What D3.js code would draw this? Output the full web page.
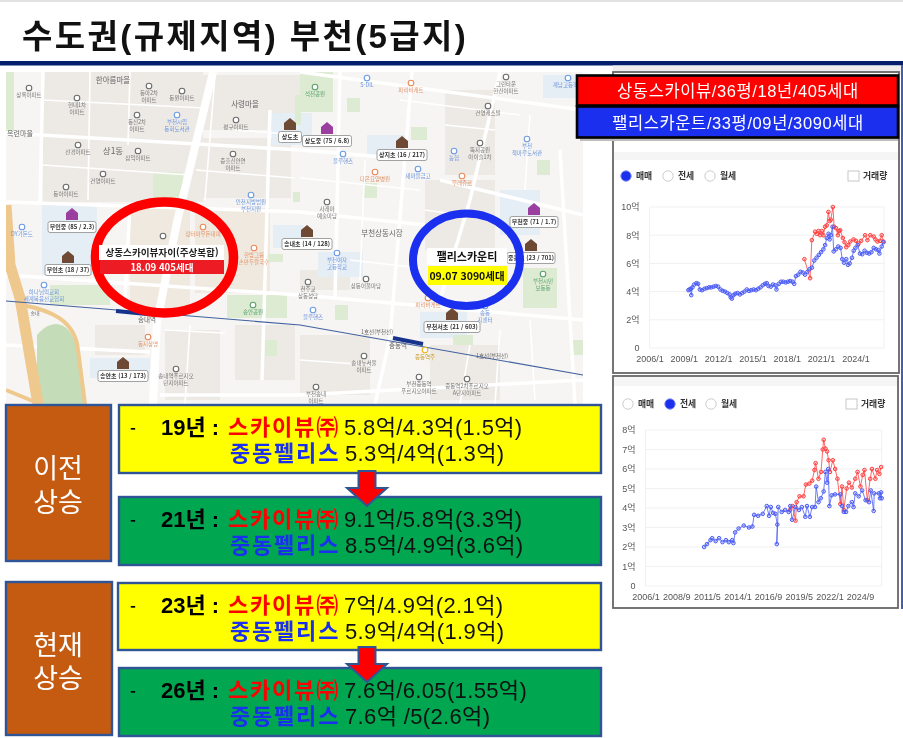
<!DOCTYPE html>
<html lang="ko">
<head>
<meta charset="utf-8">
<title>수도권(규제지역) 부천(5급지)</title>
<script src="https://cdn.jsdelivr.net/npm/d3@7"></script>
<style>
  html, body { margin: 0; padding: 0; background: #fff; }
  svg { display: block; font-family: "Noto Sans CJK KR", "Noto Sans", sans-serif; }
  .soft { filter: blur(0.5px); }
  .softer { filter: blur(0.3px); }
</style>
</head>
<body>
<div id="chart"></div>
<script>
/* DATA */
// [year as decimal, price in 억]
const saleSky = [[2019.54,6.3],[2020.04,4.95],[2020.19,7.65],[2020.48,8.25],[2020.62,8.1],[2020.77,8.3],[2020.92,8.0],[2021.06,8.3],[2021.2,8.0],[2021.35,8.6],[2021.5,8.7],[2021.64,9.65],[2021.75,9.0],[2021.85,9.1],[2022.03,10],[2022.14,8.6],[2022.3,8.5],[2022.47,8.0],[2022.57,8.3],[2022.67,8.35],[2022.9,7.8],[2023.05,7.5],[2023.2,7.15],[2023.38,7.3],[2023.55,7.55],[2023.83,7.7],[2024.05,7.6],[2024.27,7.4],[2024.5,7.6],[2024.85,8.0],[2025.05,7.65],[2025.3,8.0],[2025.6,7.9],[2025.75,7.7],[2025.93,7.55],[2026.15,7.6],[2026.3,8.0],[2026.45,7.55]];
const salePalace = [[2009.4,4.1],[2009.5,4.15],[2009.6,4.2],[2009.65,3.75],[2009.75,4.3],[2009.9,4.5],[2010.1,4.6],[2010.25,4.55],[2010.4,4.15],[2010.6,4.1],[2010.8,4.2],[2011,4.25],[2011.2,4.3],[2011.4,4.3],[2011.6,4.35],[2011.8,4.4],[2012,4.35],[2012.2,4.15],[2012.4,4.05],[2012.6,4],[2012.8,3.9],[2013,3.8],[2013.1,3.6],[2013.2,3.5],[2013.35,3.75],[2013.5,3.85],[2013.7,3.9],[2013.9,3.8],[2014.1,3.9],[2014.3,4],[2014.5,4.15],[2014.7,4.05],[2014.9,4.1],[2015.1,4.15],[2015.3,4.1],[2015.5,4.2],[2015.7,4.3],[2015.9,4.45],[2016.1,4.55],[2016.25,4.6],[2016.4,4.4],[2016.6,4.35],[2016.8,4.5],[2017,4.45],[2017.1,4.15],[2017.3,4.55],[2017.5,4.7],[2017.7,4.7],[2017.9,4.65],[2018.1,4.7],[2018.3,4.75],[2018.5,4.7],[2018.65,4.55],[2018.8,5.1],[2019,5.2],[2019.2,5.4],[2019.4,5.35],[2019.6,5.2],[2019.8,5.4],[2020,5.6],[2020.2,5.7],[2020.4,6.2],[2020.6,6.4],[2020.8,6.6],[2021,6.8],[2021.2,7],[2021.35,7.3],[2021.5,7.8],[2021.65,8.1],[2021.75,7.7],[2021.85,8],[2022,8.6],[2022.1,6.85],[2022.3,7],[2022.5,7.2],[2022.7,7.1],[2022.85,6.3],[2023,6.05],[2023.2,6.3],[2023.35,5.9],[2023.5,6],[2023.7,6.4],[2023.85,6.9],[2024,7.1],[2024.2,7.3],[2024.4,6.7],[2024.6,6.65],[2024.8,6.9],[2025,6.75],[2025.2,6.7],[2025.4,6.8],[2025.6,7.1],[2025.8,7],[2026,6.95],[2026.1,6.7],[2026.3,7.2],[2026.45,7.5]];
const rentSky = [[2018.58,3.9],[2018.8,4.1],[2019.05,3.35],[2019.15,4.3],[2019.4,4.6],[2019.75,4.6],[2019.95,5.2],[2020.25,5.25],[2020.5,5.4],[2020.7,5.95],[2020.8,6.3],[2021.05,5.5],[2021.27,5.85],[2021.42,7],[2021.5,7.5],[2021.65,7.05],[2021.8,6.9],[2021.93,6.45],[2022.05,5.85],[2022.3,6.45],[2022.5,6],[2022.7,5.5],[2022.95,4.2],[2023.1,5.1],[2023.25,3.9],[2023.5,5],[2023.7,5.3],[2023.95,5.05],[2024.25,5.5],[2024.45,5.85],[2024.7,5.1],[2024.9,5.7],[2025.05,5.95],[2025.3,4.4],[2025.55,5.5],[2025.7,6],[2026,5.5],[2026.15,5.95],[2026.35,5.75],[2026.5,6.1]];
const rentPalace = [[2011.1,2],[2011.35,2.15],[2011.65,2.35],[2011.8,2.45],[2012.1,2.3],[2012.4,2.45],[2012.7,2.25],[2013,2.35],[2013.25,2.25],[2013.55,2.35],[2013.65,2.2],[2013.8,2.75],[2014.1,2.95],[2014.55,3.1],[2015,3],[2015.3,3.05],[2015.45,3.65],[2015.8,3.6],[2016.2,3.7],[2016.55,4.1],[2016.75,3.6],[2016.9,4.05],[2017.1,3.75],[2017.3,3.7],[2017.47,3.15],[2017.42,2.15],[2017.55,4.05],[2017.85,3.8],[2018.15,3.9],[2018.45,3.8],[2018.6,4.1],[2018.75,3.4],[2019.05,4.05],[2019.35,3.9],[2019.6,4.05],[2019.9,3.55],[2020.05,4.1],[2020.3,3.55],[2020.5,4.05],[2020.75,4.05],[2020.85,5.1],[2021.05,4.3],[2021.25,4.5],[2021.5,4.85],[2021.65,5.85],[2021.8,5.3],[2021.9,6],[2022,4.1],[2022.2,4.65],[2022.5,4.7],[2022.95,4.7],[2023.1,4.1],[2023.25,3.8],[2023.45,3.8],[2023.65,4.1],[2023.95,4.3],[2024.1,4.05],[2024.25,4.75],[2024.55,4.6],[2024.85,4.9],[2025.15,4.4],[2025.45,4.3],[2025.6,4.9],[2025.85,3.85],[2025.9,4.75],[2026.3,4.75],[2026.4,4.5],[2026.5,4.8],[2026.55,4.5]];

const saleTicks = [2006, 2009, 2012, 2015, 2018, 2021, 2024];
const saleTickLabels = ["2006/1", "2009/1", "2012/1", "2015/1", "2018/1", "2021/1", "2024/1"];
const rentTicks = [2006, 2008.667, 2011.333, 2014, 2016.667, 2019.333, 2022, 2024.667];
const rentTickLabels = ["2006/1", "2008/9", "2011/5", "2014/1", "2016/9", "2019/5", "2022/1", "2024/9"];
const saleLevels = [0, 2, 4, 6, 8, 10];
const rentLevels = [0, 1, 2, 3, 4, 5, 6, 7, 8];

const legendLabels = ["상동스카이뷰/36평/18년/405세대", "팰리스카운트/33평/09년/3090세대"];
const tradeModes = ["매매", "전세", "월세"];

const periodLabels = [["이전", "상승"], ["현재", "상승"]];
const rowYears = ["19년", "21년", "23년", "26년"];
const skyPrices = ["5.8억/4.3억(1.5억)", "9.1억/5.8억(3.3억)", "7억/4.9억(2.1억)", "7.6억/6.05(1.55억)"];
const palacePrices = ["5.3억/4억(1.3억)", "8.5억/4.9억(3.6억)", "5.9억/4억(1.9억)", "7.6억 /5(2.6억)"];

/* LAYOUT */
const width = 903, height = 738;
const red = "#ff0000", blue = "#1b30ee";
const digitFont = '"Liberation Sans", "Noto Sans CJK KR", sans-serif';

const svg = d3.select("#chart").append("svg").attr("width", width).attr("height", height);
svg.append("defs").append("clipPath").attr("id", "map-clip")
  .append("rect").attr("x", 6).attr("y", 72).attr("width", 577).attr("height", 332);

/* HEADER */
svg.append("rect").attr("width", width).attr("height", 2).attr("fill", "#e2e2e2");
svg.append("text").attr("class", "softer").attr("x", 22).attr("y", 48)
  .attr("font-size", 33).attr("font-weight", 700).attr("fill", "#111")
  .attr("font-family", digitFont).attr("letter-spacing", 2.4)
  .text("수도권(규제지역) 부천(5급지)");
svg.append("rect").attr("y", 61).attr("width", width).attr("height", 4.5).attr("fill", "#04206c");

/* MAP */
// the street map behind the two circles, everything in page pixels
const mapAreas = [
  ["#edeae5", 43, 72, 160, 130], ["#edeae5", 200, 75, 100, 55], ["#edeae5", 196, 138, 95, 60],
  ["#efe9df", 130, 205, 60, 110], ["#efe9df", 195, 208, 75, 85], ["#edeae5", 445, 90, 50, 85],
  ["#edeae5", 425, 180, 70, 70], ["#edeae5", 95, 325, 50, 30], ["#edeae5", 165, 330, 55, 70],
  ["#edeae5", 235, 325, 60, 55], ["#edeae5", 300, 335, 70, 60], ["#edeae5", 430, 345, 70, 55],
  ["#edeae5", 300, 270, 50, 20],
  ["#e6eef5", 42, 205, 55, 70], ["#e6eef5", 272, 113, 40, 32], ["#e6eef5", 90, 358, 60, 20],
  ["#e6eef5", 273, 225, 30, 23], ["#e6eef5", 500, 190, 40, 45], ["#e6eef5", 318, 252, 45, 25],
  ["#e6eef5", 420, 312, 47, 26], ["#e6eef5", 367, 135, 40, 20], ["#e6eef5", 543, 75, 34, 23],
  ["#dcebd1", 153, 172, 30, 26], ["#dcebd1", 227, 295, 60, 23], ["#dcebd1", 50, 285, 60, 20],
  ["#dcebd1", 523, 268, 34, 40], ["#dcebd1", 347, 98, 13, 14], ["#dcebd1", 300, 72, 33, 40],
  ["#dcebd1", 363, 183, 14, 15], ["#dcebd1", 411, 127, 16, 13], ["#dcebd1", 537, 160, 13, 15],
  ["#dcebd1", 335, 305, 13, 15], ["#dcebd1", 570, 340, 13, 15], ["#dcebd1", 453, 335, 20, 10],
  ["#dcebd1", 293, 192, 7, 10], ["#dcebd1", 6, 72, 8, 60], ["#dcebd1", 295, 95, 6, 30],
  ["#dcebd1", 265, 340, 12, 16], ["#dcebd1", 268, 254, 15, 8]
];
const mapRoads = [
  [[6, 133], [300, 150], [420, 160]],
  [[6, 202], [300, 212], [425, 225]],
  [[6, 275], [300, 295], [583, 320]],
  [[300, 72], [583, 110]],
  [[43, 72], [40, 202]],
  [[130, 205], [125, 300]],
  [[270, 110], [262, 380]],
  [[340, 72], [335, 300]],
  [[412, 72], [390, 338], [375, 404]],
  [[500, 72], [470, 200], [440, 300]],
  [[560, 150], [575, 404]],
  [[440, 180], [583, 215]],
  [[6, 345], [150, 352]],
  [[160, 395], [300, 395], [583, 380]]
];
// thin side streets inside the blocks
const mapLanes = [
  [[43, 100], [205, 108]], [[43, 165], [190, 175]], [[90, 72], [88, 200]], [[130, 72], [128, 145]],
  [[215, 75], [205, 200]], [[235, 130], [300, 135]], [[196, 170], [295, 178]], [[165, 330], [225, 333]],
  [[190, 325], [185, 404]], [[300, 360], [370, 365]], [[445, 125], [495, 130]], [[425, 210], [500, 220]],
  [[300, 178], [420, 190]], [[365, 160], [360, 280]], [[400, 100], [520, 115]], [[530, 115], [525, 190]],
  [[350, 260], [420, 268]], [[470, 345], [460, 404]], [[500, 330], [495, 404]], [[530, 320], [535, 400]]
];
const mapLabels = [
  [113, 83, "한아름마을", 7.5], [245, 107, "사령마을", 7.5], [113, 154, "상1동", 8.5], [20, 136, "옥련마을", 7],
  [382, 236, "부천상동시장", 7.5], [147, 322, "송내역", 6.5], [398, 348, "중동역", 6.5],
  [377, 334, "1호선(부천선)", 5.5], [492, 358, "1호선(부천선)", 5.5], [35, 315, "송내", 5]
];
// kind, ring x, ring y, first line, second line
const mapPlaces = [
  ["grey", 29, 88, "상록아파트"], ["grey", 77, 98, "현대1차", "아파트"], ["grey", 149, 86, "동아2차", "아파트"],
  ["grey", 182, 91, "동원아파트"], ["blue", 177, 115, "부천시립", "동화도서관"], ["grey", 137, 115, "동신2차", "아파트"],
  ["grey", 236, 120, "평구아파트"], ["grey", 78, 145, "선경아파트"], ["grey", 138, 151, "삼익아파트"],
  ["grey", 103, 174, "건영아파트"], ["grey", 66, 187, "동아아파트"], ["grey", 233, 154, "중흥신안연", "아파트"],
  ["blue", 251, 195, "인천지방법원", "부천지원"], ["blue", 22, 227, "DY가든드"], ["grey", 163, 236],
  ["orange", 203, 227, "정터마우돈대피"], ["orange", 254, 248, "한방그룹", "손만두칼국수"], ["blue", 44, 285, "하나님의교회", "세계복음선교협회"],
  ["green", 253, 305, "송안공원"], ["grey", 176, 369, "송내역푸르지오", "단지아파트"], ["orange", 148, 337, "동지상명"],
  ["blue", 367, 78, "S-DIL"], ["orange", 411, 83, "파리바게트"], ["green", 315, 87, "석천공원"],
  ["grey", 506, 77, "그린타운", "한신아파트"], ["blue", 568, 78, "계남고등학교"], ["grey", 488, 106, "건영캐스빌"],
  ["grey", 480, 143, "뚝지공원", "아이슬1차"], ["blue", 527, 139, "부천", "책마루도서관"], ["blue", 454, 151, "농협"],
  ["blue", 418, 169, "새마을금고"], ["orange", 375, 172, "다은요양병원"], ["orange", 462, 176, "뚜레쥬르"],
  ["blue", 343, 154, "블루핸즈"], ["grey", 327, 202, "사래마", "예술마당"], ["blue", 337, 253, "부천여자", "고등학교"],
  ["grey", 366, 279, "상동어울마당"], ["grey", 308, 282, "천주교", "상동성당"], ["blue", 313, 310, "블루핸즈"],
  ["green", 543, 274, "부천시민", "보동동"], ["grey", 364, 356, "송내뉴서울", "아파트"], ["grey", 419, 377, "부천중동역", "푸르지오아파트"],
  ["grey", 467, 379, "중동역2차푸르지오", "A단지아파트"], ["grey", 316, 387, "부천송내", "아파트"], ["blue", 485, 306, "송동", "지센터"],
  ["yellow", 425, 350, "중동역주"], ["orange", 428, 298, "파리바게트"]
];
// label, label centre x, label centre y, label width, icon colour
const mapSchools = [
  ["부인중 (85 / 2.3)", 72, 227, 48, "#9a3fa0"], ["부인초 (18 / 37)", 68, 270, 46, "#6e4a34"],
  ["상도초", 290, 137, 23, "#6e4a34"], ["송내초 (14 / 128)", 307, 244, 50, "#6e4a34"],
  ["상도중 (75 / 6.8)", 327, 141, 49, "#9a3fa0"], ["상지초 (16 / 217)", 402, 155, 50, "#6e4a34"],
  ["부천중 (71 / 1.7)", 534, 222, 48, "#9a3fa0"], ["중흥초 (23 / 701)", 531, 258, 48, "#6e4a34"],
  ["부천서초 (21 / 603)", 452, 327, 56, "#6e4a34"], ["송안초 (13 / 173)", 123, 376, 50, "#6e4a34"]
];
const ringColors = { grey: "#6a6a6a", blue: "#6c9be4", orange: "#ea8a5c", green: "#5aa06a", yellow: "#e6b820" };
const labelColors = { grey: "#777", blue: "#6c94dc", orange: "#e4936a", green: "#5ea470", yellow: "#c99a20" };

const map = svg.append("g").attr("class", "soft").attr("clip-path", "url(#map-clip)");
map.append("rect").attr("x", 6).attr("y", 72).attr("width", 577).attr("height", 332).attr("fill", "#f6f5f3");
map.selectAll(".area").data(mapAreas).join("rect").attr("class", "area")
  .attr("fill", d => d[0]).attr("x", d => d[1]).attr("y", d => d[2]).attr("width", d => d[3]).attr("height", d => d[4]);

const roadLine = d3.line();
map.selectAll(".lane").data(mapLanes).join("path").attr("class", "lane")
  .attr("d", roadLine).attr("fill", "none").attr("stroke", "#fff").attr("stroke-width", 1.6);
map.selectAll(".road").data(mapRoads).join("path").attr("class", "road")
  .attr("d", roadLine).attr("fill", "none").attr("stroke", "#fff").attr("stroke-width", 3.5);
// main road through 송내역
map.append("path").attr("d", roadLine([[213, 72], [177, 222], [157, 322], [153, 404]]))
  .attr("fill", "none").attr("stroke", "#fff").attr("stroke-width", 8);
// highway and the loop round the green at bottom left
map.append("path").attr("d", "M37 335 C55 315 70 325 76 345 L84 404 L37 404 Z").attr("fill", "#c4dcb8");
map.append("path").attr("d", "M6 205 L10 265 L20 298 L38 404").attr("fill", "none").attr("stroke", "#efc88d").attr("stroke-width", 11);
map.append("path").attr("d", "M22 305 C50 310 75 320 78 350 L85 404").attr("fill", "none").attr("stroke", "#efc88d").attr("stroke-width", 4);
map.append("path").attr("d", "M6 390 L40 404").attr("fill", "none").attr("stroke", "#efc88d").attr("stroke-width", 4);
// railway
map.append("path").attr("d", roadLine([[6, 301], [300, 325], [583, 375]])).attr("fill", "none").attr("stroke", "#40609e").attr("stroke-width", 1.1);
map.append("path").attr("d", roadLine([[116, 311], [147, 314]])).attr("stroke", "#16328c").attr("stroke-width", 4);
map.append("path").attr("d", roadLine([[393, 338], [423, 344]])).attr("stroke", "#16328c").attr("stroke-width", 4);

map.selectAll(".ring").data(mapPlaces).join("circle").attr("class", "ring")
  .attr("cx", d => d[1]).attr("cy", d => d[2]).attr("r", 2.8)
  .attr("fill", "#fff").attr("stroke", d => ringColors[d[0]]).attr("stroke-width", 1.1);
map.selectAll(".place").data(mapPlaces.filter(d => d[3])).join("text").attr("class", "place")
  .attr("x", d => d[1]).attr("y", d => d[2] + 9).attr("text-anchor", "middle")
  .attr("font-size", 5.5).attr("fill", d => labelColors[d[0]]).text(d => d[3]);
map.selectAll(".place2").data(mapPlaces.filter(d => d[4])).join("text").attr("class", "place2")
  .attr("x", d => d[1]).attr("y", d => d[2] + 15.5).attr("text-anchor", "middle")
  .attr("font-size", 5.5).attr("fill", d => labelColors[d[0]]).text(d => d[4]);
map.selectAll(".map-label").data(mapLabels).join("text").attr("class", "map-label")
  .attr("x", d => d[0]).attr("y", d => d[1]).attr("text-anchor", "middle")
  .attr("font-size", d => d[3]).attr("fill", "#666").text(d => d[2]);

const school = map.selectAll(".school").data(mapSchools).join("g").attr("class", "school")
  .attr("transform", d => `translate(${d[1]},${d[2]})`);
school.append("path").attr("d", "M-6 -7 L-6 -14 L0 -19 L6 -14 L6 -7 Z").attr("fill", d => d[4]);
school.append("rect").attr("x", d => -d[3] / 2).attr("y", -5.5).attr("width", d => d[3]).attr("height", 11).attr("rx", 2)
  .attr("fill", "#fff").attr("stroke", "#8c8c8c").attr("stroke-width", 0.8);
school.append("text").attr("text-anchor", "middle").attr("y", 2.3).attr("font-size", 6).attr("font-weight", 700).attr("fill", "#333").text(d => d[0]);

// the two apartment call-outs
const callout = svg.append("g").attr("class", "softer");
callout.append("ellipse").attr("cx", 164.5).attr("cy", 257.4).attr("rx", 69).attr("ry", 55.5)
  .attr("fill", "none").attr("stroke", red).attr("stroke-width", 9.5);
callout.append("ellipse").attr("cx", 466.5).attr("cy", 259.7).attr("rx", 53.5).attr("ry", 46.3)
  .attr("fill", "none").attr("stroke", blue).attr("stroke-width", 8);
callout.append("rect").attr("x", 99).attr("y", 245).attr("width", 125).attr("height", 15).attr("fill", "#fff");
callout.append("rect").attr("x", 100).attr("y", 260).attr("width", 124).attr("height", 14).attr("fill", "#ed1c24");
callout.append("rect").attr("x", 427).attr("y", 248).attr("width", 80).attr("height", 17).attr("fill", "#fff");
callout.append("rect").attr("x", 428).attr("y", 266).attr("width", 79).attr("height", 19).attr("fill", "#ffff00");
callout.append("text").attr("x", 162).attr("y", 256).attr("text-anchor", "middle").attr("font-size", 9.6).attr("font-weight", 700).attr("fill", "#222").text("상동스카이뷰자이(주상복합)");
callout.append("text").attr("x", 162).attr("y", 271).attr("text-anchor", "middle").attr("font-size", 9.6).attr("font-weight", 700).attr("fill", "#fff").text("18.09  405세대");
callout.append("text").attr("x", 467).attr("y", 261).attr("text-anchor", "middle").attr("font-size", 11).attr("font-weight", 700).attr("fill", "#111").text("팰리스카운티");
callout.append("text").attr("x", 467).attr("y", 280).attr("text-anchor", "middle").attr("font-size", 10.5).attr("font-weight", 700).attr("fill", "#111").text("09.07 3090세대");

/* PRICE PANELS */
svg.append("rect").attr("x", 613).attr("y", 65.5).attr("width", 288).attr("height", 9).attr("fill", "#eeeeee");

function drawPanel(cfg) {
  const g = svg.append("g").attr("class", "soft");
  g.append("rect").attr("x", cfg.box[0]).attr("y", cfg.box[1]).attr("width", cfg.box[2]).attr("height", cfg.box[3])
    .attr("fill", "#fff").attr("stroke", "#666").attr("stroke-width", 1.8);
  g.append("rect").attr("x", cfg.box[0] + 1).attr("y", cfg.stripe[0]).attr("width", cfg.box[2] - 2).attr("height", cfg.stripe[1]).attr("fill", "#f5f5f5");

  // radio buttons and the 거래량 box
  tradeModes.forEach((mode, i) => {
    g.append("circle").attr("cx", cfg.radioX[i]).attr("cy", cfg.radioY).attr("r", 5.2)
      .attr("fill", i === cfg.active ? blue : "#fff").attr("stroke", i === cfg.active ? "#7d8cf5" : "#cfcfcf").attr("stroke-width", 1);
    g.append("text").attr("x", cfg.radioX[i] + 10).attr("y", cfg.radioY + 3.3).attr("font-size", 8.8).attr("fill", "#333").attr("font-weight", 700).text(mode);
  });
  g.append("rect").attr("x", cfg.checkX).attr("y", cfg.radioY - 5).attr("width", 11).attr("height", 10).attr("fill", "#fff").attr("stroke", "#c8c8c8");
  g.append("text").attr("x", cfg.checkX + 15).attr("y", cfg.radioY + 3.3).attr("font-size", 8.8).attr("fill", "#333").attr("font-weight", 700).text("거래량");

  const x = d3.scaleLinear().domain(cfg.years).range(cfg.xRange);
  const y = d3.scaleLinear().domain([0, cfg.levels[cfg.levels.length - 1]]).range(cfg.yRange);

  g.selectAll(".grid").data(cfg.levels).join("line").attr("class", "grid")
    .attr("x1", cfg.xRange[0]).attr("x2", cfg.xRange[1]).attr("y1", d => y(d)).attr("y2", d => y(d))
    .attr("stroke", "#f1f1f1");
  g.append("line").attr("x1", cfg.xRange[0]).attr("x2", cfg.xRange[0]).attr("y1", cfg.yRange[0]).attr("y2", cfg.yRange[1]).attr("stroke", "#f1f1f1");
  g.append("line").attr("x1", cfg.xRange[1]).attr("x2", cfg.xRange[1]).attr("y1", cfg.yRange[0]).attr("y2", cfg.yRange[1]).attr("stroke", "#f1f1f1");

  const xAxis = d3.axisBottom(x).tickValues(cfg.ticks).tickSize(0).tickPadding(8)
    .tickFormat((d, i) => cfg.tickLabels[i]);
  const yAxis = d3.axisLeft(y).tickValues(cfg.levels).tickSize(0).tickPadding(10)
    .tickFormat(d => d === 0 ? "0" : d + "억");
  const styleAxis = sel => {
    sel.select(".domain").remove();
    sel.selectAll("text").attr("font-size", 9).attr("fill", "#555").attr("font-family", digitFont);
  };
  g.append("g").attr("transform", `translate(0,${cfg.yRange[0]})`).call(xAxis).call(styleAxis);
  g.append("g").attr("transform", `translate(${cfg.xRange[0]},0)`).call(yAxis).call(styleAxis);

  const line = d3.line().x(d => x(d[0])).y(d => y(d[1]));
  [[cfg.sky, "#ff4040"], [cfg.palace, "#4a5cf5"]].forEach(([rows, color]) => {
    g.append("path").attr("d", line(rows)).attr("fill", "none").attr("stroke", color).attr("stroke-width", 1).attr("opacity", 0.8);
    g.append("g").selectAll("circle").data(rows).join("circle")
      .attr("cx", d => x(d[0])).attr("cy", d => y(d[1])).attr("r", 1.8)
      .attr("fill", color).attr("fill-opacity", 0.25).attr("stroke", color).attr("stroke-width", 1);
  });
}

drawPanel({
  box: [613, 72, 286, 301], stripe: [152, 8], radioX: [626, 668, 710], radioY: 176, checkX: 848, active: 0,
  years: [2006, 2026.5], xRange: [649.5, 884], yRange: [348, 207], levels: saleLevels,
  ticks: saleTicks, tickLabels: saleTickLabels, sky: saleSky, palace: salePalace
});
drawPanel({
  box: [613, 376, 285, 232], stripe: [377, 9], radioX: [628, 670, 711], radioY: 404, checkX: 846, active: 1,
  years: [2006, 2026.55], xRange: [645.5, 881.7], yRange: [586, 430], levels: rentLevels,
  ticks: rentTicks, tickLabels: rentTickLabels, sky: rentSky, palace: rentPalace
});
svg.append("rect").attr("x", 901).attr("y", 65).attr("width", 2).attr("height", 544).attr("fill", "#3f62aa");

/* LEGEND */
const legend = svg.append("g").attr("class", "softer");
legend.append("rect").attr("x", 580).attr("y", 138).attr("width", 318).attr("height", 3).attr("fill", "#bdbdbd");
legendLabels.forEach((label, i) => {
  legend.append("rect").attr("x", 577).attr("y", 75.5 + i * 31).attr("width", 321).attr("height", 30 + i)
    .attr("fill", i ? blue : red).attr("stroke", "#000").attr("stroke-width", 2.6);
  legend.append("text").attr("x", 738).attr("y", 97 + i * 32).attr("text-anchor", "middle")
    .attr("font-size", 16.5).attr("fill", "#fff").attr("letter-spacing", 0.6)
    .attr("font-family", digitFont).text(label);
});

/* PRICE SUMMARY BOXES */
const rowBoxes = [[119, 405, 482, 68, "#ffff00"], [119, 497, 482, 68, "#00a650"], [118, 583, 483, 67, "#ffff00"], [119, 668, 482, 68, "#00a650"]];
const periodBoxes = [[6, 405, 105, 156], [6, 582, 106, 153]];
const periodBaselines = [[478, 512], [655, 688]];
const boxes = svg.append("g").attr("class", "softer");

boxes.selectAll(".period").data(periodBoxes).join("rect").attr("class", "period")
  .attr("x", d => d[0]).attr("y", d => d[1]).attr("width", d => d[2]).attr("height", d => d[3])
  .attr("fill", "#c55a11").attr("stroke", "#2f5597").attr("stroke-width", 2.4);
periodLabels.forEach((lines, i) => {
  lines.forEach((word, j) => {
    boxes.append("text").attr("x", periodBoxes[i][0] + 52).attr("y", periodBaselines[i][j])
      .attr("text-anchor", "middle").attr("font-size", 27).attr("fill", "#fff").text(word);
  });
});

boxes.selectAll(".row").data(rowBoxes).join("rect").attr("class", "row")
  .attr("x", d => d[0]).attr("y", d => d[1]).attr("width", d => d[2]).attr("height", d => d[3])
  .attr("fill", d => d[4]).attr("stroke", "#2f5597").attr("stroke-width", 2.4);

// arrows between the yellow and green boxes
[[367, 471], [367, 647]].forEach(([cx, top]) => {
  boxes.append("path")
    .attr("d", `M${cx - 8.5} ${top} H${cx + 8.5} V${top + 17} H${cx + 20} L${cx} ${top + 35} L${cx - 20} ${top + 17} H${cx - 8.5} Z`)
    .attr("fill", red).attr("stroke", "#2f5597").attr("stroke-width", 2);
});

rowBoxes.forEach((b, i) => {
  const top = b[1] + 30;
  const t = boxes.append("text").attr("y", top).attr("font-size", 22).attr("font-family", digitFont);
  boxes.append("text").attr("x", 130).attr("y", top).attr("font-size", 16).attr("font-weight", 700).text("-");
  t.append("tspan").attr("x", 161).attr("font-weight", 700).attr("fill", "#000").text(rowYears[i] + " :");
  t.append("tspan").attr("x", 228).attr("font-weight", 700).attr("fill", red).attr("letter-spacing", 1.8).text("스카이뷰㈜");
  t.append("tspan").attr("x", 344).attr("fill", "#111").attr("letter-spacing", 0.35).text(skyPrices[i]);
  const u = boxes.append("text").attr("y", top + 26).attr("font-size", 22).attr("font-family", digitFont);
  u.append("tspan").attr("x", 230).attr("font-weight", 700).attr("fill", blue).attr("letter-spacing", 1.8).text("중동펠리스");
  u.append("tspan").attr("x", 345).attr("fill", "#111").attr("letter-spacing", 0.35).text(palacePrices[i]);
});
</script>
</body>
</html>
